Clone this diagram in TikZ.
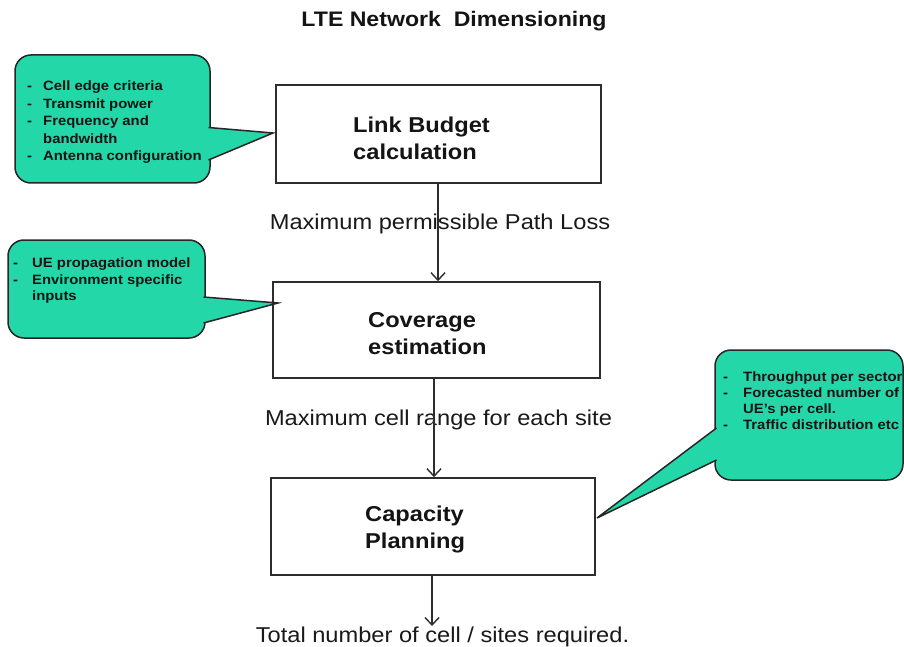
\documentclass[tikz,border=0pt]{standalone}
\usepackage{fontspec}
\setmainfont{Liberation Sans}[FakeStretch=1.1]
\usetikzlibrary{arrows.meta}
\definecolor{calfill}{RGB}{36,215,168}
\definecolor{lineg}{RGB}{45,45,45}
\begin{document}
\begin{tikzpicture}[x=1pt,y=-1pt,
  box/.style={draw=lineg, line width=1.6pt, fill=white, inner sep=0pt},
  boxtext/.style={font=\fontsize{21.5}{27}\selectfont\bfseries, align=left, anchor=west, inner sep=0pt, text=black!92},
  lbl/.style={font=\fontsize{21.5}{26}\selectfont, inner sep=0pt, text=black!90},
  callout/.style={draw=black!85, line width=1.5pt, fill=calfill, rounded corners=16pt, inner sep=0pt},
  callline/.style={draw=black!85, line width=1.5pt, line join=miter},
  caltext/.style={font=\fontsize{13.5}{17.5}\selectfont\bfseries, align=left, anchor=north west, inner sep=0pt, text=black!92},
  arr/.style={draw=lineg, line width=1.3pt, -{Straight Barb[length=7.5pt,width=14pt,line width=1.4pt]}}]
\useasboundingbox (0,0) rectangle (904,647);
\fill[white] (0,0) rectangle (904,647);

% title
\node[font=\fontsize{21}{24}\selectfont\bfseries, inner sep=0pt, text=black!92] (title) at (454,21) {LTE Network\ \ Dimensioning};

% boxes
\node[box, minimum width=325pt, minimum height=98pt] (lb) at (438.5,134) {};
\node[box, minimum width=327pt, minimum height=96pt] (cov) at (436.5,330) {};
\node[box, minimum width=324pt, minimum height=97pt] (cap) at (433,526.5) {};

\node[boxtext] (lbt) at (353,138.5) {Link Budget\\calculation};
\node[boxtext] (covt) at (368,333.5) {Coverage\\estimation};
\node[boxtext] (capt) at (365,529) {Capacity\\Planning};

% labels
\node[lbl] (l1) at (440,224) {Maximum permissible Path Loss};
\node[lbl] (l2) at (438.5,420) {Maximum cell range for each site};
\node[lbl] (l3) at (442.5,637) {Total number of cell / sites required.};

% arrows
\coordinate (x1) at (438,0);
\coordinate (x2) at (434,0);
\coordinate (x3) at (432,0);
\coordinate (e3) at (432,626);
\draw[arr] (lb.south -| x1) -- (cov.north -| x1);
\draw[arr] (cov.south -| x2) -- (cap.north -| x2);
\draw[arr] (cap.south -| x3) -- (e3);

% callout 1
\node[callout, minimum width=195pt, minimum height=128pt] (c1) at (112.5,119) {};
\coordinate (t1a) at (208.5,127.5);
\coordinate (t1b) at (208.5,160);
\coordinate (t1) at (273,133);
\fill[calfill] (t1a) -- (t1) -- (t1b) -- cycle;
\draw[callline] (t1a) -- (t1) -- (t1b);
\node[caltext] (c1t) at (27,81) {\makebox[16pt][l]{-}Cell edge criteria\\\makebox[16pt][l]{-}Transmit power\\\makebox[16pt][l]{-}Frequency and\\\hspace*{16pt}bandwidth\\\makebox[16pt][l]{-}Antenna configuration};

% callout 2
\node[callout, minimum width=197pt, minimum height=98pt] (c2) at (106.5,289) {};
\coordinate (t2a) at (203.5,297);
\coordinate (t2b) at (203.5,323);
\coordinate (t2) at (278,303);
\fill[calfill] (t2a) -- (t2) -- (t2b) -- cycle;
\draw[callline] (t2a) -- (t2) -- (t2b);
\node[caltext, font=\fontsize{13.5}{16.5}\selectfont\bfseries] (c2t) at (13,258) {\makebox[19pt][l]{-}UE propagation model\\\makebox[19pt][l]{-}Environment specific\\\hspace*{19pt}inputs};

% callout 3
\node[callout, minimum width=188pt, minimum height=130pt] (c3) at (809,415) {};
\coordinate (t3a) at (716.5,428);
\coordinate (t3b) at (716.5,460);
\coordinate (t3) at (597,518);
\fill[calfill] (t3a) -- (t3) -- (t3b) -- cycle;
\draw[callline] (t3a) -- (t3) -- (t3b);
\node[caltext, font=\fontsize{13.5}{15.7}\selectfont\bfseries] (c3t) at (723,372) {\makebox[20pt][l]{-}Throughput per sector\\\makebox[20pt][l]{-}Forecasted number of\\\hspace*{20pt}UE's per cell.\\\makebox[20pt][l]{-}Traffic distribution etc};
\end{tikzpicture}
\end{document}
